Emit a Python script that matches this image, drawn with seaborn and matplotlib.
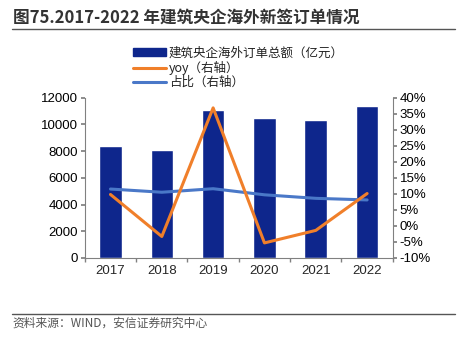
import matplotlib
matplotlib.use("Agg")
import matplotlib.pyplot as plt
import seaborn as sns
import pandas as pd
from matplotlib.lines import Line2D
from matplotlib.patches import Patch
from matplotlib.ticker import FuncFormatter, FixedLocator

# Data
years = ["2017", "2018", "2019", "2020", "2021", "2022"]
orders = [8370, 8100, 11080, 10490, 10340, 11380]      # 亿元
yoy = [9.8, -3.3, 36.8, -5.3, -1.4, 10.1]              # %
share = [11.5, 10.5, 11.6, 9.7, 8.6, 8.1]              # %
left_ticks = [0, 2000, 4000, 6000, 8000, 10000, 12000]
right_ticks = [-10, -5, 0, 5, 10, 15, 20, 25, 30, 35, 40]

title = "图75.2017-2022 年建筑央企海外新签订单情况"
source = "资料来源：WIND，安信证券研究中心"
labels = ["建筑央企海外订单总额（亿元）", "yoy（右轴）", "占比（右轴）"]

sns.set_theme(style="white")
plt.rcParams["font.family"] = ["Noto Sans CJK SC", "DejaVu Sans"]

NUM_FONT = ["Liberation Sans", "DejaVu Sans"]
BAR = "#0E268C"
ORANGE = "#F07F2A"
BLUE = "#4A78C8"
GREY = "#808080"

df = pd.DataFrame({"year": years, "orders": orders, "yoy": yoy, "share": share})

fig = plt.figure(figsize=(4.61, 3.39), dpi=100)
ax = fig.add_axes([0.184, 0.239, 0.668, 0.473])

sns.barplot(data=df, x="year", y="orders", color=BAR, saturation=1,
            width=0.44, ax=ax)
ax.set_ylim(0, 12000)
ax.set_xlim(-0.5, 5.5)
ax.yaxis.set_major_locator(FixedLocator(left_ticks))
ax.set_xlabel("")
ax.set_ylabel("")

ax2 = ax.twinx()
sns.lineplot(x=list(range(len(years))), y=df["share"], color=BLUE, lw=2.2, ax=ax2)
sns.lineplot(x=list(range(len(years))), y=df["yoy"], color=ORANGE, lw=2.2, ax=ax2)
ax2.set_ylim(-10, 40)
ax2.yaxis.set_major_locator(FixedLocator(right_ticks))
ax2.yaxis.set_major_formatter(FuncFormatter(lambda v, p: f"{int(v)}%"))
ax2.set_ylabel("")
ax2.set_xlim(-0.5, 5.5)

for a in (ax, ax2):
    a.spines["top"].set_visible(False)
    for s in ("left", "right", "bottom"):
        a.spines[s].set_color(GREY)
        a.spines[s].set_linewidth(0.8)
ax.spines["right"].set_visible(False)
ax2.spines["left"].set_visible(False)
ax2.spines["bottom"].set_visible(False)

ax.tick_params(axis="y", direction="out", length=3, color=GREY, labelsize=9.5,
               labelcolor="black", pad=2, left=True)
ax2.tick_params(axis="y", direction="out", length=3, color=GREY, labelsize=9.5,
                labelcolor="black", pad=2, right=True)
ax.tick_params(axis="x", which="major", length=0, labelsize=9.5, pad=5)
ax.set_xticks([i - 0.5 for i in range(len(years) + 1)], minor=True)
ax.tick_params(axis="x", which="minor", direction="out", length=3, color=GREY,
               bottom=True)
for lab in ax.get_xticklabels() + ax.get_yticklabels() + ax2.get_yticklabels():
    lab.set_fontfamily(NUM_FONT)

handles = [
    Patch(facecolor=BAR, edgecolor=BAR),
    Line2D([0], [0], color=ORANGE, lw=2.2),
    Line2D([0], [0], color=BLUE, lw=2.2),
]
fig.legend(handles, labels, loc="upper left", bbox_to_anchor=(0.278, 0.878),
           frameon=False, fontsize=9, handlelength=2.6, handleheight=0.55,
           handletextpad=0.25, labelspacing=0.1, borderaxespad=0,
           labelcolor="#222222")

# Title and source
fig.text(0.028, 0.948, title, fontsize=12, fontweight="bold", color="#333333",
         va="center", ha="left")
fig.add_artist(Line2D([0.026, 0.987], [0.915, 0.915], color="#555555", lw=1.0))
fig.add_artist(Line2D([0.026, 0.987], [0.074, 0.074], color="#555555", lw=1.0))
fig.text(0.028, 0.046, source, fontsize=8.5, color="#555555", va="center",
         ha="left", style="italic")

fig.savefig("out.png", dpi=100)
